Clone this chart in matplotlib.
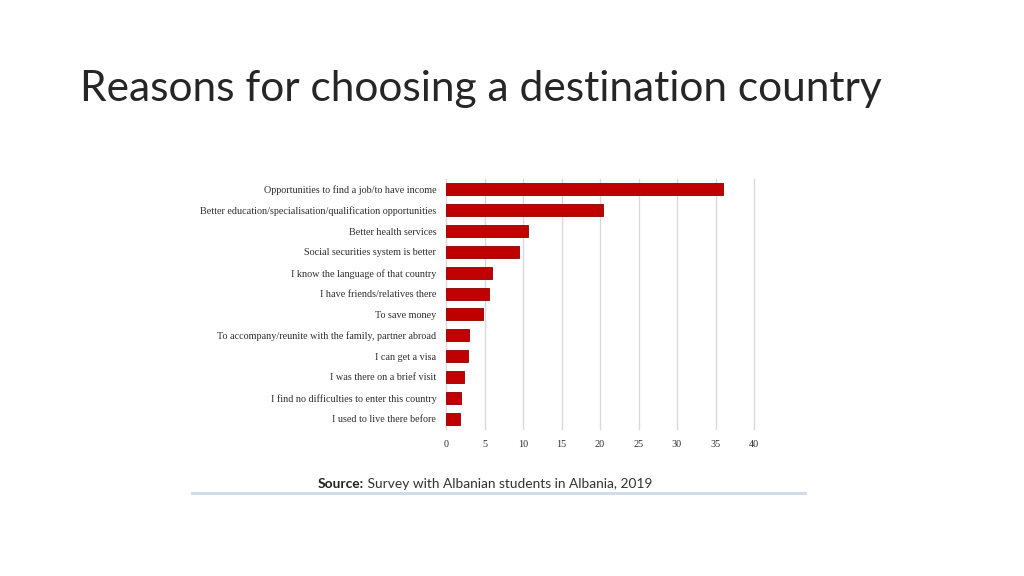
import matplotlib
matplotlib.use("Agg")
import matplotlib.pyplot as plt
from matplotlib.lines import Line2D

title = "Reasons for choosing a destination country"
categories = [
    "Opportunities to find a job/to have income",
    "Better education/specialisation/qualification opportunities",
    "Better health services",
    "Social securities system is better",
    "I know the language of that country",
    "I have friends/relatives there",
    "To save money",
    "To accompany/reunite with the family, partner abroad",
    "I can get a visa",
    "I was there on a brief visit",
    "I find no difficulties to enter this country",
    "I used to live there before",
]
values = [36.0, 20.4, 10.6, 9.5, 6.0, 5.6, 4.8, 3.0, 2.8, 2.3, 1.9, 1.8]
xticks = [0, 5, 10, 15, 20, 25, 30, 35, 40]
source_bold = "Source:"
source_rest = " Survey with Albanian students in Albania, 2019"

W, H = 1024, 576
fig = plt.figure(figsize=(W / 100, H / 100), dpi=100)
fig.patch.set_facecolor("white")

# Title
fig.text(80 / W, 1 - 101 / H, title, fontsize=30.6, family="Lato",
         weight="normal", color="#262626", ha="left", va="baseline")

# Chart axes
left, right = 446 / W, 754 / W
top, bottom = 1 - 179 / H, 1 - 429 / H
ax = fig.add_axes([left, bottom, right - left, top - bottom])
ypos = list(range(len(categories)))
ax.barh(ypos, values, height=0.57, color="#c00000", edgecolor="#8a0000",
        linewidth=0.6, zorder=3)
ax.set_xlim(0, 40)
ax.set_ylim(len(categories) - 0.5, -0.5)
ax.set_xticks(xticks)
ax.set_xticklabels([str(t) for t in xticks])
ax.set_yticks(ypos)
ax.set_yticklabels(categories)
for s in ax.spines.values():
    s.set_visible(False)
ax.tick_params(axis="both", length=0, labelsize=7.3, labelcolor="#2e2e2e")
ax.tick_params(axis="x", pad=8)
ax.tick_params(axis="y", pad=7)
for lab in ax.get_xticklabels() + ax.get_yticklabels():
    lab.set_family("Liberation Serif")
ax.xaxis.grid(True, color="#d9d9d9", linewidth=1.0, zorder=0)
for gl in ax.get_xgridlines():
    gl.set_clip_on(False)
ax.yaxis.grid(False)
ax.set_axisbelow(True)
ax.patch.set_alpha(0)

# Source line
fig.canvas.draw()
renderer = fig.canvas.get_renderer()
t1 = fig.text(318 / W, 1 - 484 / H, source_bold, fontsize=9.9, family="Lato",
              weight="bold", color="#222222", ha="left", va="center")
bb = t1.get_window_extent(renderer=renderer)
fig.text(bb.x1 / W, 1 - 484 / H, source_rest, fontsize=9.9, family="Lato",
         color="#333333", ha="left", va="center")

# Bottom divider line from the embedded picture
fig.add_artist(Line2D([192 / W, 805 / W], [1 - 493 / H, 1 - 493 / H],
                      transform=fig.transFigure, color="#d3dce3", linewidth=2.2))

fig.savefig("out.png", dpi=100)
